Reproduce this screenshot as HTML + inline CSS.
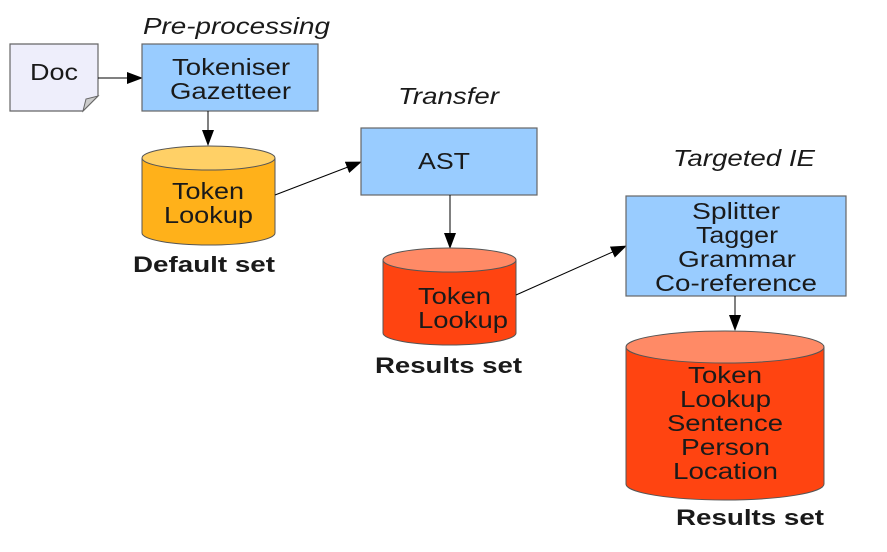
<!DOCTYPE html>
<html><head><meta charset="utf-8"><style>
body{margin:0;background:#fff;}
svg text{font-family:"Liberation Sans",sans-serif;font-size:23px;fill:#1a1a1a}
.b{font-weight:bold;font-size:22px}
.i{font-style:italic}
</style></head><body>
<svg width="887" height="547" viewBox="0 0 887 547" xmlns="http://www.w3.org/2000/svg">
<defs><marker id="a" markerWidth="16" markerHeight="12" refX="15" refY="6" orient="auto" markerUnits="userSpaceOnUse"><path d="M0,0 L16,6 L0,12z" fill="#000"/></marker></defs>
<path d="M10,44 H98 V96 L83,111 H10 Z" fill="#eeeefb" stroke="#666" stroke-width="1.2"/>
<path d="M98,96 L83,111 L86,99 Z" fill="#ccc" stroke="#666"/>
<text x="30" y="80" textLength="48" lengthAdjust="spacingAndGlyphs">Doc</text>
<line x1="98" y1="78" x2="142" y2="78" stroke="#000" marker-end="url(#a)"/>
<text class="i" x="143" y="34" textLength="187" lengthAdjust="spacingAndGlyphs">Pre-processing</text>
<rect x="142" y="44" width="176" height="67" fill="#99ccff" stroke="#666" stroke-width="1.2"/>
<text x="172" y="75" textLength="118" lengthAdjust="spacingAndGlyphs">Tokeniser</text>
<text x="170" y="99" textLength="121" lengthAdjust="spacingAndGlyphs">Gazetteer</text>
<line x1="208" y1="111" x2="208" y2="145" stroke="#000" marker-end="url(#a)"/>
<path d="M142,158 V233 A66.5,12 0 0 0 275,233 V158" fill="#ffb11a" stroke="#555"/>
<ellipse cx="208.5" cy="158" rx="66.5" ry="12" fill="#ffd066" stroke="#555"/>
<text x="172" y="199" textLength="72" lengthAdjust="spacingAndGlyphs">Token</text>
<text x="164" y="223" textLength="89" lengthAdjust="spacingAndGlyphs">Lookup</text>
<text class="b" x="133" y="272" textLength="142" lengthAdjust="spacingAndGlyphs">Default set</text>
<line x1="275" y1="195" x2="361" y2="162" stroke="#000" marker-end="url(#a)"/>
<text class="i" x="398" y="104" textLength="101" lengthAdjust="spacingAndGlyphs">Transfer</text>
<rect x="361" y="128" width="176" height="67" fill="#99ccff" stroke="#666" stroke-width="1.2"/>
<text x="418" y="169" textLength="52" lengthAdjust="spacingAndGlyphs">AST</text>
<line x1="450" y1="195" x2="450" y2="248" stroke="#000" marker-end="url(#a)"/>
<path d="M383,260 V333 A66.5,12 0 0 0 516,333 V260" fill="#ff4411" stroke="#555"/>
<ellipse cx="449.5" cy="260" rx="66.5" ry="12" fill="#ff8a66" stroke="#555"/>
<text x="418" y="304" textLength="73" lengthAdjust="spacingAndGlyphs">Token</text>
<text x="418" y="328" textLength="90" lengthAdjust="spacingAndGlyphs">Lookup</text>
<text class="b" x="375" y="373" textLength="147" lengthAdjust="spacingAndGlyphs">Results set</text>
<line x1="516" y1="295" x2="626" y2="246" stroke="#000" marker-end="url(#a)"/>
<text class="i" x="673" y="166" textLength="142" lengthAdjust="spacingAndGlyphs">Targeted IE</text>
<rect x="626" y="196" width="220" height="100" fill="#99ccff" stroke="#666" stroke-width="1.2"/>
<text x="692" y="219" textLength="88" lengthAdjust="spacingAndGlyphs">Splitter</text>
<text x="696" y="243" textLength="82" lengthAdjust="spacingAndGlyphs">Tagger</text>
<text x="678" y="267" textLength="118" lengthAdjust="spacingAndGlyphs">Grammar</text>
<text x="655" y="291" textLength="162" lengthAdjust="spacingAndGlyphs">Co-reference</text>
<line x1="735" y1="296" x2="735" y2="330" stroke="#000" marker-end="url(#a)"/>
<path d="M626,347 V484 A99,16 0 0 0 824,484 V347" fill="#ff4411" stroke="#555"/>
<ellipse cx="725" cy="347" rx="99" ry="16" fill="#ff8a66" stroke="#555"/>
<text x="688" y="383" textLength="74" lengthAdjust="spacingAndGlyphs">Token</text>
<text x="680" y="407" textLength="91" lengthAdjust="spacingAndGlyphs">Lookup</text>
<text x="667" y="431" textLength="116" lengthAdjust="spacingAndGlyphs">Sentence</text>
<text x="681" y="455" textLength="89" lengthAdjust="spacingAndGlyphs">Person</text>
<text x="673" y="479" textLength="105" lengthAdjust="spacingAndGlyphs">Location</text>
<text class="b" x="676" y="525" textLength="148" lengthAdjust="spacingAndGlyphs">Results set</text>
</svg>
</body></html>
